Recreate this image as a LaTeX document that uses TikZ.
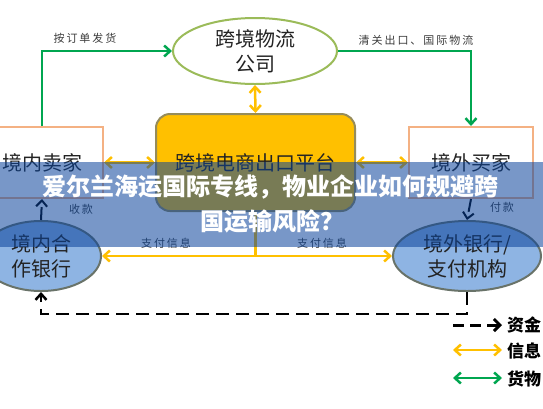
\documentclass[tikz,border=0pt]{standalone}
\usepackage{fontspec}
\newfontfamily\cjk{Noto Sans CJK SC}
\newfontfamily\cjksp[LetterSpace=18]{Noto Sans CJK SC}
\usetikzlibrary{arrows.meta,shapes.geometric}
\definecolor{grn}{RGB}{0,166,80}
\definecolor{ylw}{RGB}{255,192,0}
\definecolor{orng}{RGB}{244,177,131}
\definecolor{olv}{RGB}{155,187,89}
\definecolor{platb}{RGB}{150,140,90}
\definecolor{bluef}{RGB}{142,180,227}
\definecolor{blueb}{RGB}{105,115,105}
\definecolor{bann}{RGB}{10,67,155}
\definecolor{txt}{RGB}{35,35,35}
\definecolor{lbl}{RGB}{60,60,60}
\begin{document}
\begin{tikzpicture}[x=1pt,y=-1pt,
  main/.style={font=\cjk\fontsize{20}{25}\selectfont, text=txt, align=center, inner sep=0pt},
  ellnode/.style={main, ellipse, draw, line width=2pt},
  boxnode/.style={main, rectangle, draw=orng, line width=2pt, fill=white},
  lab/.style={font=\cjksp\fontsize{11}{13}\selectfont, text=lbl, inner sep=0pt},
  tip/.style={-{Straight Barb[length=6pt,width=11pt]}},
  dtip/.style={{Straight Barb[length=6pt,width=11pt]}-{Straight Barb[length=6pt,width=11pt]}},
  gline/.style={draw=grn, line width=2.5pt},
  yline/.style={draw=ylw, line width=2.5pt},
  kline/.style={draw=black, line width=2.5pt, dash pattern=on 13pt off 7pt},
  title/.style={font=\cjk\bfseries\fontsize{24}{28}\selectfont, text=white, inner sep=0pt},
  legtxt/.style={font=\cjk\bfseries\fontsize{17}{20}\selectfont, text=black, anchor=west, inner sep=0pt}
]
\useasboundingbox (0,0) rectangle (543,408);
\fill[white] (0,0) rectangle (543,408);

% nodes
\node[ellnode, draw=olv, fill=white, minimum width=164pt, minimum height=66pt] (logi) at (255,51) {跨境物流\\公司};
\node[main, rectangle, rounded corners=14pt, draw=platb, fill=ylw, line width=2pt, minimum width=199pt, minimum height=97pt] (plat) at (255.5,162.5) {跨境电商出口平台};
\node[boxnode, minimum width=122pt, minimum height=71pt] (seller) at (42,162.5) {境内卖家};
\node[boxnode, minimum width=124pt, minimum height=71pt] (buyer) at (471,162.5) {境外买家};
\node[ellnode, draw=blueb, fill=bluef, minimum width=120pt, minimum height=70pt] (bankL) at (41,256) {境内合\\作银行};
\node[ellnode, draw=blueb, fill=bluef, minimum width=148pt, minimum height=70pt] (bankR) at (467,256) {境外银行/\\支付机构};

% goods flow
\draw[gline, tip] (seller.north) |- (logi.west);
\draw[gline, tip] (logi.east) -| (buyer.north);

% information flow
\draw[yline, dtip] (logi.south) -- (plat.north);
\draw[yline, dtip] (seller.east) -- (plat.west);
\draw[yline, dtip] (plat.east) -- (buyer.west);
\draw[yline, tip] (plat.south) |- (bankL.east);
\draw[yline, tip] (plat.south) |- (bankR.west);

% money flow
\draw[kline, line width=2pt, tip] (bankL.north) -- (seller.south);
\draw[kline, line width=2pt, tip] (buyer.south) -- (bankR.north);
\draw[kline, tip] (bankR.south) -- ++(0,22) -| (bankL.south);

% labels
\node[lab] (l1) at (85,38) {按订单发货};
\node[lab] (l2) at (416,40) {清关出口、国际物流};
\node[lab] (l3) at (81,209) {收款};
\node[lab] (l4) at (502,207) {付款};
\node[lab] (l5) at (166,243) {支付信息};
\node[lab] (l6) at (322,243) {支付信息};

% legend
\coordinate (k1a) at (453,325); \coordinate (k1b) at (502,325);
\coordinate (k2a) at (453,350); \coordinate (k2b) at (502,350);
\coordinate (k3a) at (453,378); \coordinate (k3b) at (502,378);
\draw[kline, line width=3pt, dash pattern=on 11pt off 6pt, -{Straight Barb[length=6pt,width=12pt]}] (k1a) -- (k1b);
\draw[yline, dtip] (k2a) -- (k2b);
\draw[gline, dtip] (k3a) -- (k3b);
\node[legtxt] (t1) at (507,325) {资金};
\node[legtxt] (t2) at (507,351) {信息};
\node[legtxt] (t3) at (507,379) {货物};

% overlay banner
\fill[bann, opacity=0.55] (0,162) rectangle (543,247);
\node[title] (h1) at (270,187) {爱尔兰海运国际专线，物业企业如何规避跨};
\node[title] (h2) at (272,221) {国运输风险？};
\end{tikzpicture}
\end{document}
